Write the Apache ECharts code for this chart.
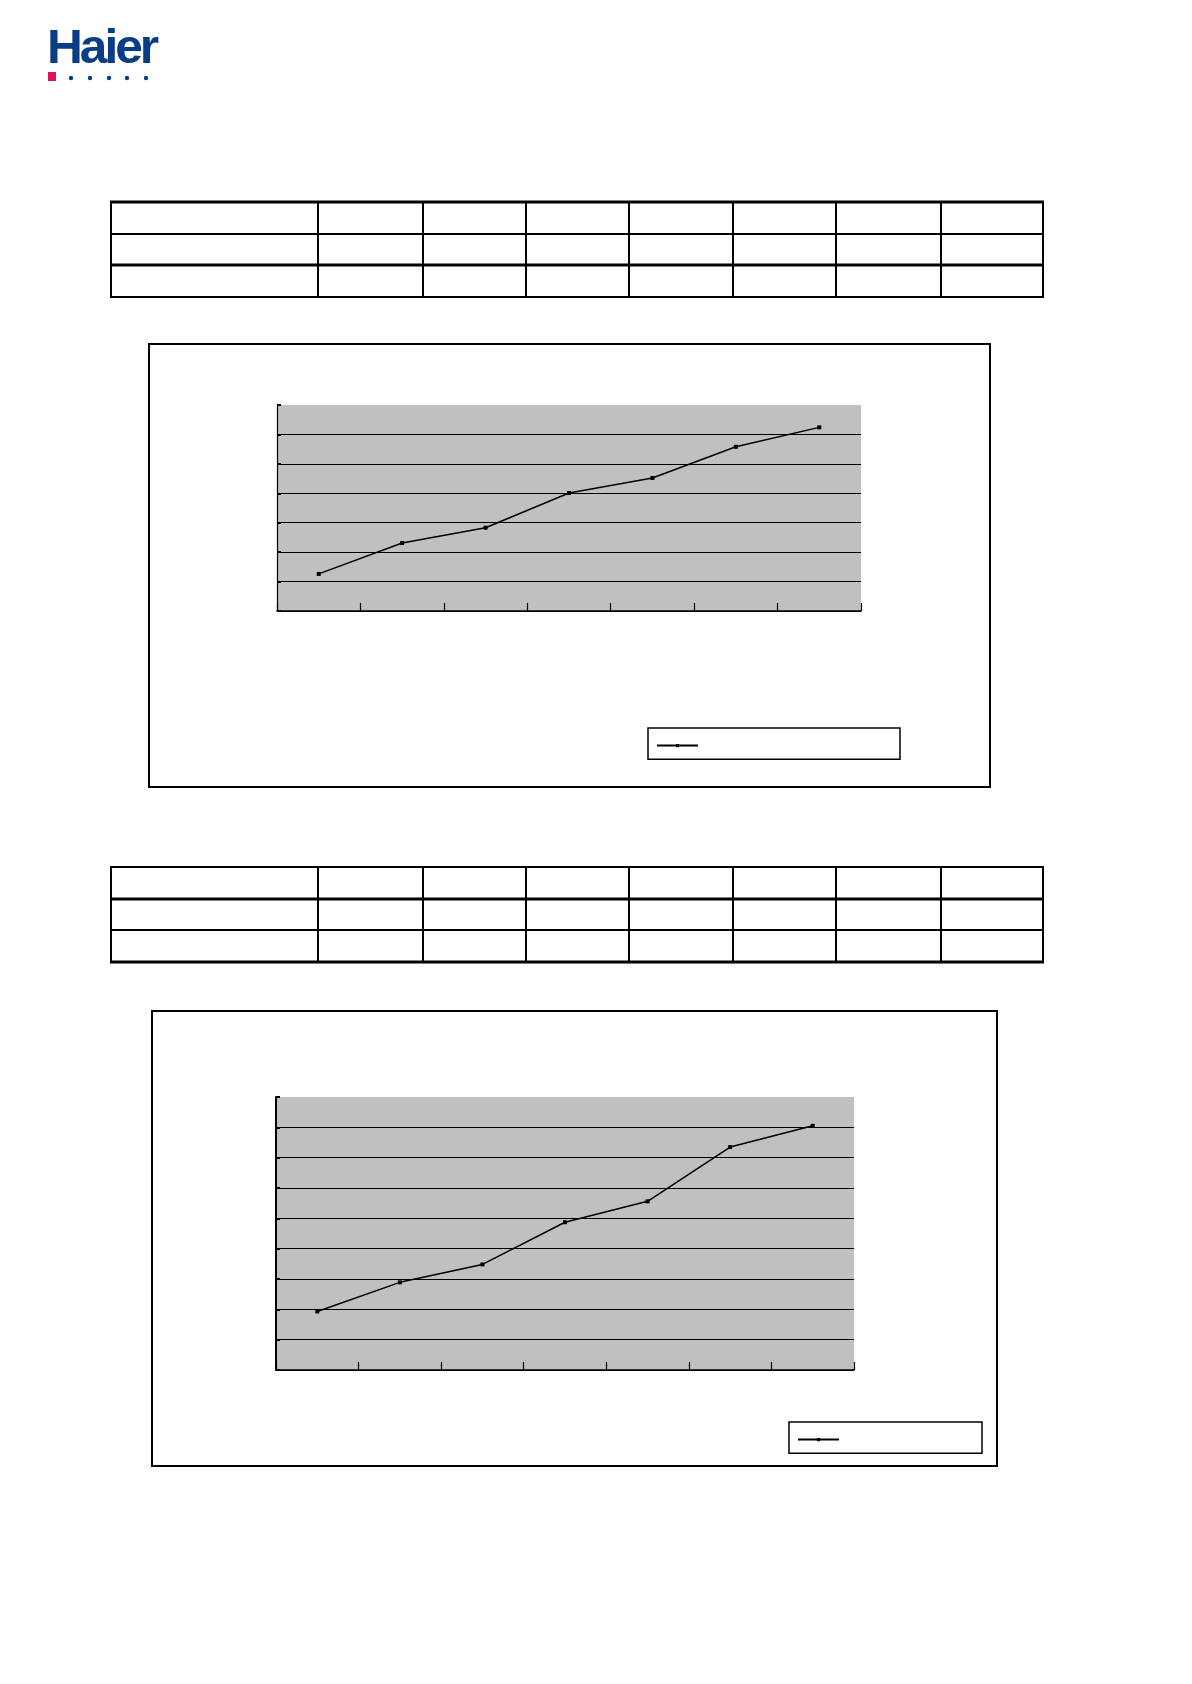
<!DOCTYPE html>
<html>
<head>
<meta charset="utf-8">
<script src="https://cdn.jsdelivr.net/npm/echarts@6/dist/echarts.min.js"></script>
<style>
  html, body { margin: 0; padding: 0; background: #fff; }
  #page { position: relative; width: 1192px; height: 1684px; }
  #deco { position: absolute; left: 0; top: 0; }
  #chart { position: absolute; left: 0; top: 0; width: 1192px; height: 1684px; }
</style>
</head>
<body>
<div id="page">
<svg id="deco" width="1192" height="1684" xmlns="http://www.w3.org/2000/svg"></svg>
<div id="chart"></div>
</div>
<script>
// ---- data ----
const categories = ['1', '2', '3', '4', '5', '6', '7'];
const series1Values = [1.26, 2.31, 2.83, 4.01, 4.52, 5.58, 6.24];
const series2Values = [1.93, 2.89, 3.48, 4.87, 5.56, 7.35, 8.05];
const axis1Max = 7;
const axis2Max = 9;

// ---- static page decoration (logo, empty tables, chart frames) ----
const svg = document.getElementById('deco');
const NS = 'http://www.w3.org/2000/svg';
function el(tag, attrs, text) {
  const e = document.createElementNS(NS, tag);
  for (const k in attrs) e.setAttribute(k, attrs[k]);
  if (text) e.textContent = text;
  svg.appendChild(e);
  return e;
}
// logo
el('text', {x: 47, y: 63, 'font-family': 'Liberation Sans, Arial, sans-serif', 'font-weight': 'bold',
  'font-size': 49, fill: '#0b3d86', 'letter-spacing': '-3', textLength: 109, lengthAdjust: 'spacingAndGlyphs'}, 'Haier');
el('rect', {x: 48, y: 72, width: 8, height: 9, fill: '#e0115f'});
[71, 90, 109, 127, 146].forEach(cx => el('circle', {cx: cx, cy: 78, r: 2.2, fill: '#0b3d86'}));

function table(rows, rowW) {
  const cols = [111, 318, 423, 526, 629, 733, 836, 941, 1043];
  rows.forEach((y, i) => el('line', {x1: 110, x2: 1044, y1: y, y2: y, stroke: '#000', 'stroke-width': rowW[i]}));
  cols.forEach(x => el('line', {x1: x, x2: x, y1: rows[0], y2: rows[rows.length - 1], stroke: '#000', 'stroke-width': 2}));
}
table([202, 234, 265, 297], [3, 2, 3, 2]);
table([867, 899, 930, 962], [2, 3, 2, 3]);

el('rect', {x: 149, y: 344, width: 841, height: 443, fill: 'none', stroke: '#000', 'stroke-width': 2});
el('rect', {x: 152, y: 1011, width: 845, height: 455, fill: 'none', stroke: '#000', 'stroke-width': 2});

// ---- chart ----
const chart = echarts.init(document.getElementById('chart'), null, {renderer: 'canvas'});

function xAx(gi) {
  return {
    type: 'category', gridIndex: gi, data: categories, boundaryGap: true,
    axisLine: {show: true, lineStyle: {color: '#000', width: 1.5}},
    axisTick: {show: true, inside: true, length: 8, lineStyle: {color: '#000', width: 1.2}},
    axisLabel: {show: false}, splitLine: {show: false}
  };
}
function yAx(gi, max, lw) {
  const cols = [];
  for (let i = 0; i <= max; i++) cols.push(i === max ? '#c0c0c0' : '#000');
  return {
    type: 'value', gridIndex: gi, min: 0, max: max, interval: 1,
    axisLine: {show: true, lineStyle: {color: '#000', width: lw}},
    axisTick: {show: true, inside: true, length: 4, lineStyle: {color: '#000', width: 2}},
    axisLabel: {show: false},
    splitLine: {show: true, lineStyle: {color: cols, width: 1.2}}
  };
}
function lineSeries(name, gi, data) {
  return {
    name: name, type: 'line', xAxisIndex: gi, yAxisIndex: gi, data: data,
    symbol: 'rect', symbolSize: 4, showSymbol: true,
    lineStyle: {color: '#000', width: 1.5}, itemStyle: {color: '#000'},
    animation: false
  };
}
function legend(name, left, top, padRight) {
  return {
    data: [name], left: left, top: top, orient: 'horizontal',
    backgroundColor: '#fff', borderColor: '#000', borderWidth: 1.5,
    padding: [16, padRight, 12, 8], itemWidth: 41, itemHeight: 4, itemGap: 0,
    formatter: () => '', textStyle: {fontSize: 12, lineHeight: 4},
    selectedMode: false
  };
}

chart.setOption({
  animation: false,
  grid: [
    {left: 277, top: 405, width: 584, height: 206, show: true, backgroundColor: '#c0c0c0', borderWidth: 0, containLabel: false},
    {left: 276, top: 1097, width: 578, height: 273, show: true, backgroundColor: '#c0c0c0', borderWidth: 0, containLabel: false}
  ],
  xAxis: [xAx(0), xAx(1)],
  yAxis: [yAx(0, axis1Max, 1.2), yAx(1, axis2Max, 2)],
  legend: [legend('s1', 648, 728, 197), legend('s2', 789, 1422, 138)],
  series: [lineSeries('s1', 0, series1Values), lineSeries('s2', 1, series2Values)]
});
</script>
</body>
</html>
